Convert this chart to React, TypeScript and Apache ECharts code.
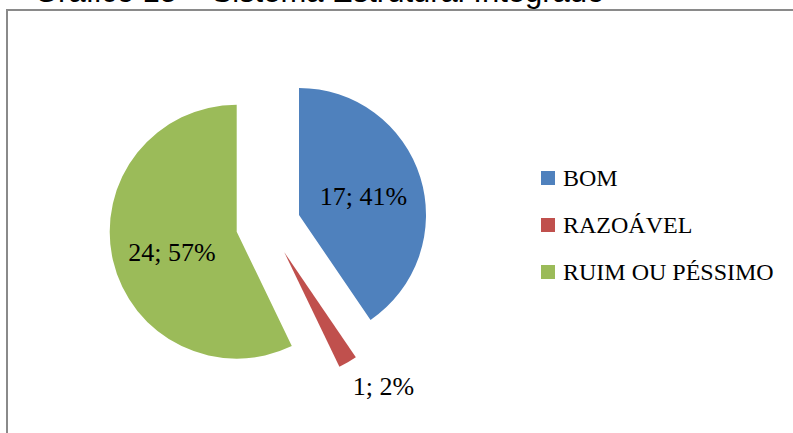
import React, { useEffect, useRef } from "react";
import * as echarts from "echarts";

const TITLE = "Gráfico 15 – Sistema Estrutural Integrado";
const CATEGORIES = ["BOM", "RAZOÁVEL", "RUIM OU PÉSSIMO"];
const VALUES = [17, 1, 24];
const COLORS = ["#4F81BD", "#C0504D", "#9BBB59"];

// exploded slice apex positions and label nudges (layout only)
const CENTERS: [number, number][] = [
  [299, 215],
  [284.3, 252.3],
  [236.7, 231.7],
];
const LABEL_NUDGE: [number, number][] = [
  [1, 1],
  [66, 77],
  [0, 6],
];

export default function App() {
  const ref = useRef<HTMLDivElement>(null);
  useEffect(() => {
    if (!ref.current) return;
    const chart = echarts.init(ref.current, null, { renderer: "svg" });
    const labelFont = {
      fontFamily: "Liberation Serif",
      fontSize: 26,
      color: "#000",
    };
    const series = CATEGORIES.map((_, i) => ({
      type: "pie",
      radius: 127,
      center: CENTERS[i],
      startAngle: 90,
      clockwise: true,
      percentPrecision: 0,
      silent: true,
      avoidLabelOverlap: false,
      label: { show: false },
      labelLine: { show: false },
      emphasis: { disabled: true },
      labelLayout: { dx: LABEL_NUDGE[i][0], dy: LABEL_NUDGE[i][1] },
      itemStyle: { borderWidth: 0 },
      data: CATEGORIES.map((name, j) => ({
        name,
        value: VALUES[j],
        itemStyle: { color: j === i ? COLORS[j] : "rgba(0,0,0,0)" },
        label:
          j === i
            ? { show: true, position: "inside", formatter: "{c}; {d}%", ...labelFont }
            : { show: false },
      })),
    }));
    chart.setOption({
      animation: false,
      backgroundColor: "#fff",
      legend: {
        orient: "vertical",
        left: 536,
        top: 161,
        icon: "rect",
        itemWidth: 14,
        itemHeight: 14,
        itemGap: 23,
        selectedMode: false,
        textStyle: {
          fontFamily: "Liberation Serif",
          fontSize: 24,
          lineHeight: 24,
          color: "#000",
          padding: [0, 0, 0, 3],
        },
        data: CATEGORIES.map((name, j) => ({
          name,
          itemStyle: { color: COLORS[j] },
        })),
      },
      graphic: [
        {
          type: "rect",
          shape: { x: 7, y: 10, width: 820, height: 450 },
          style: { fill: "none", stroke: "#8a8a8a", lineWidth: 2 },
          silent: true,
        },
        {
          type: "text",
          x: 34,
          y: -8.7,
          style: {
            text: TITLE,
            fontFamily: "Liberation Sans",
            fontSize: 31,
            fill: "#000",
            verticalAlign: "middle",
            align: "left",
          },
          silent: true,
        },
      ],
      series,
    });
    return () => chart.dispose();
  }, []);
  return (
    <div
      ref={ref}
      style={{ position: "absolute", left: 0, top: 0, width: 793, height: 433, background: "#fff" }}
    />
  );
}
